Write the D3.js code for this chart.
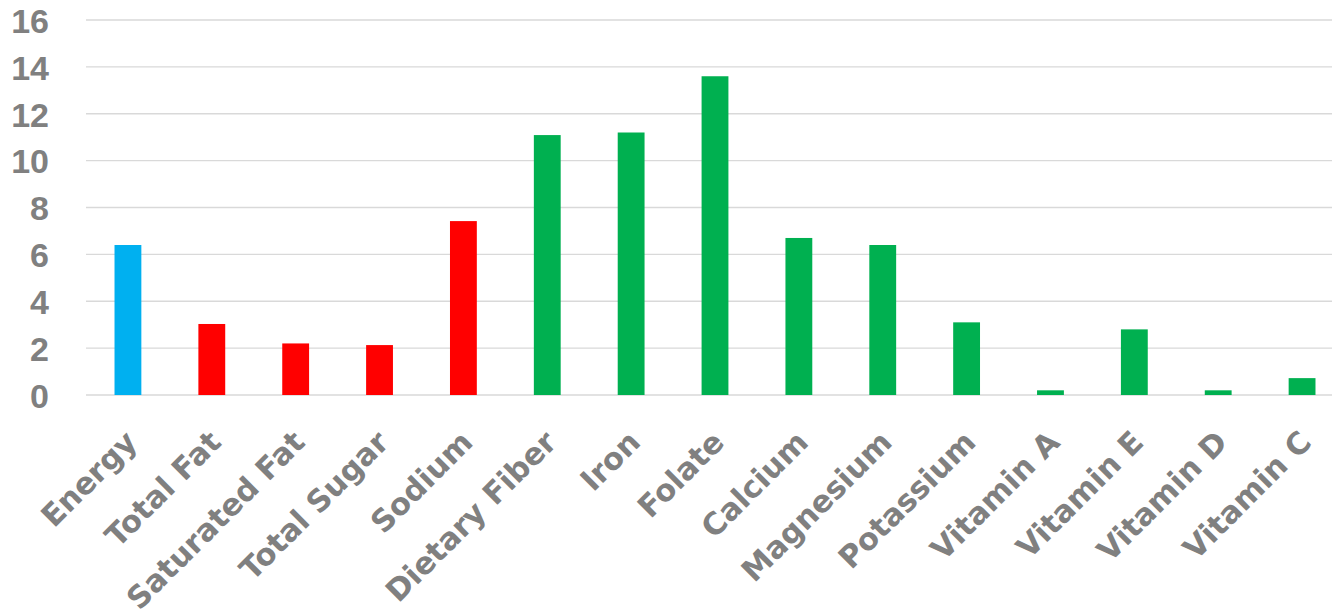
<!DOCTYPE html>
<html>
<head>
<meta charset="utf-8">
<script src="https://cdn.jsdelivr.net/npm/d3@7"></script>
<style>
  body { margin: 0; background: #fff; }
  svg { display: block; }
  .xlab { font-family: "DejaVu Sans", sans-serif; font-weight: 700; font-size: 30.5px; }
  .ylab { font-family: "Liberation Sans", Arial, sans-serif; font-weight: 700; font-size: 34px; }
</style>
</head>
<body>
<div id="chart"></div>
<script>
// nutrient names, values (% daily value) and group for colouring
const nutrients = ["Energy", "Total Fat", "Saturated Fat", "Total Sugar", "Sodium",
  "Dietary Fiber", "Iron", "Folate", "Calcium", "Magnesium", "Potassium",
  "Vitamin A", "Vitamin E", "Vitamin D", "Vitamin C"];
const values = [6.4, 3.03, 2.2, 2.13, 7.42, 11.09, 11.2, 13.6, 6.7, 6.4, 3.1, 0.2, 2.8, 0.2, 0.72];
const groups = ["energy", "limit", "limit", "limit", "limit",
  "good", "good", "good", "good", "good", "good", "good", "good", "good", "good"];
const yTicks = [0, 2, 4, 6, 8, 10, 12, 14, 16];

const data = nutrients.map((n, i) => ({ name: n, value: values[i], group: groups[i] }));

const width = 1332, height = 611;
const margin = { top: 20, right: -12, bottom: 216, left: 86 };

const svg = d3.select("#chart").append("svg")
  .attr("width", width)
  .attr("height", height);

const x = d3.scaleBand()
  .domain(nutrients)
  .range([margin.left, width - margin.right])
  .paddingInner(0.68)
  .paddingOuter(0.34);

const y = d3.scaleLinear()
  .domain([0, 16])
  .range([height - margin.bottom, margin.top]);

const color = d3.scaleOrdinal()
  .domain(["energy", "limit", "good"])
  .range(["#00B0F0", "#FF0000", "#00B050"]);

// gridlines
svg.append("g")
  .selectAll("line")
  .data(yTicks)
  .join("line")
  .attr("x1", margin.left)
  .attr("x2", width)
  .attr("y1", d => y(d))
  .attr("y2", d => y(d))
  .attr("stroke", "#d9d9d9")
  .attr("stroke-width", 1.3);

// y axis labels
const yAxis = svg.append("g")
  .attr("transform", `translate(${margin.left - 37},0)`)
  .call(d3.axisLeft(y).tickValues(yTicks).tickSize(0).tickPadding(0));
yAxis.select(".domain").remove();
yAxis.attr("font-family", null).attr("font-size", null);
yAxis.selectAll("text")
  .attr("class", "ylab")
  .attr("dy", "0.36em")
  .attr("fill", "#808080");

// bars
svg.append("g")
  .selectAll("rect")
  .data(data)
  .join("rect")
  .attr("x", d => x(d.name))
  .attr("width", x.bandwidth())
  .attr("y", d => y(d.value))
  .attr("height", d => y(0) - y(d.value))
  .attr("fill", d => color(d.group));

// x labels, rotated
svg.append("g")
  .selectAll("text")
  .data(data)
  .join("text")
  .attr("class", "xlab")
  .attr("transform", d => `translate(${x(d.name) + x.bandwidth() / 2 + 11},${y(0) + 49}) rotate(-45)`)
  .attr("text-anchor", "end")
  .attr("fill", "#808080")
  .text(d => d.name);
</script>
</body>
</html>
